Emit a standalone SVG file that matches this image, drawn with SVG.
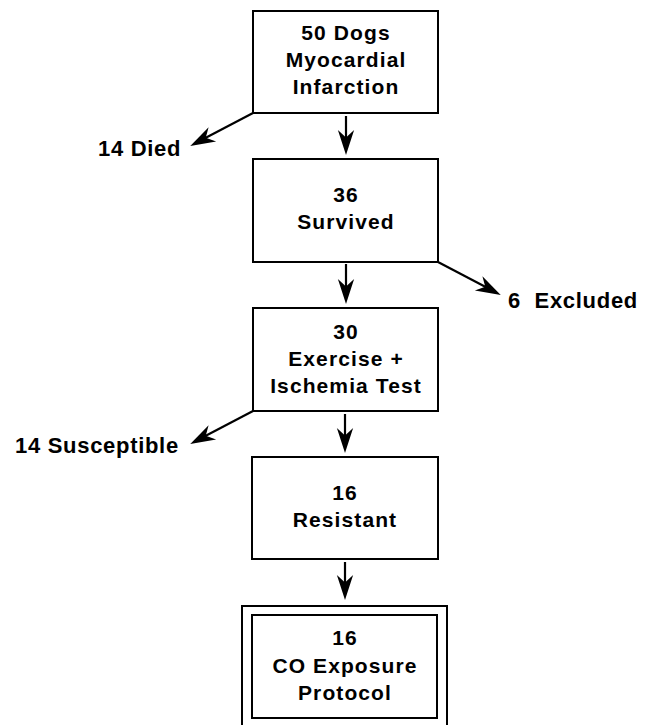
<svg xmlns="http://www.w3.org/2000/svg" width="652" height="725" viewBox="0 0 652 725">
<style>
  .box { fill: #fff; stroke: #000; stroke-width: 2; }
  .t { font-family: "Liberation Sans", Arial, sans-serif; font-weight: bold; font-size: 21px; letter-spacing: 1.1px; text-anchor: middle; fill: #000; }
  .lbl { font-family: "Liberation Sans", Arial, sans-serif; font-weight: bold; font-size: 22px; letter-spacing: 0.7px; fill: #000; }
  .c { stroke: #000; stroke-width: 2.2; fill: none; marker-end: url(#ah); }
</style>
<defs>
  <marker id="ah" markerUnits="userSpaceOnUse" markerWidth="30" markerHeight="20" refX="0" refY="0" viewBox="-14 -8 24 16" orient="auto" overflow="visible">
    <path d="M8,0 L-12,-6.5 L-6,0 L-12,6.5 Z" fill="#000"/>
  </marker>
</defs>
<rect width="652" height="725" fill="#fff"/>
<g id="connectors">
  <line class="c" x1="346" y1="116" x2="346" y2="145"/>
  <line class="c" x1="253" y1="113" x2="199.1" y2="141.3"/>
  <line class="c" x1="346" y1="264" x2="346" y2="294"/>
  <line class="c" x1="438" y1="262" x2="491.9" y2="290.3"/>
  <line class="c" x1="345" y1="414" x2="345" y2="443"/>
  <line class="c" x1="253" y1="411" x2="199.1" y2="439.3"/>
  <line class="c" x1="345" y1="562" x2="345" y2="590"/>
</g>
<g id="node-50dogs">
  <rect class="box" x="253" y="11" width="185" height="102"/>
  <text class="t" x="346" y="40">50 Dogs</text>
  <text class="t" x="346" y="67">Myocardial</text>
  <text class="t" x="346" y="94">Infarction</text>
</g>
<g id="node-died">
  <text class="lbl" x="98" y="156">14 Died</text>
</g>
<g id="node-survived">
  <rect class="box" x="253" y="159" width="185" height="103"/>
  <text class="t" x="346" y="202">36</text>
  <text class="t" x="346" y="229">Survived</text>
</g>
<g id="node-excluded">
  <text class="lbl" x="508" y="308" xml:space="preserve">6  Excluded</text>
</g>
<g id="node-exercise">
  <rect class="box" x="253" y="308" width="185" height="103"/>
  <text class="t" x="346" y="339">30</text>
  <text class="t" x="346" y="366">Exercise +</text>
  <text class="t" x="346" y="393">Ischemia Test</text>
</g>
<g id="node-susceptible">
  <text class="lbl" x="15" y="453">14 Susceptible</text>
</g>
<g id="node-resistant">
  <rect class="box" x="252" y="457" width="186" height="102"/>
  <text class="t" x="345" y="500">16</text>
  <text class="t" x="345" y="527">Resistant</text>
</g>
<g id="node-co">
  <rect class="box" x="242" y="606" width="205" height="130"/>
  <rect class="box" x="252" y="615" width="185" height="103"/>
  <text class="t" x="345" y="645">16</text>
  <text class="t" x="345" y="673">CO Exposure</text>
  <text class="t" x="345" y="700">Protocol</text>
</g>
</svg>
